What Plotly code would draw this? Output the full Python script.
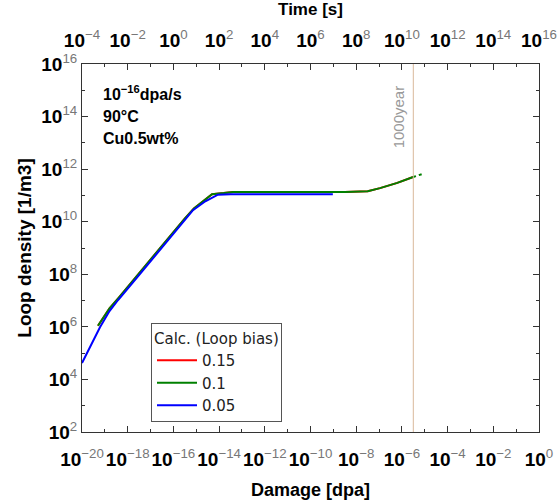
import plotly.graph_objects as go

# ---------------- data ----------------
blue_dpa = [1.0e-20, 2.5e-20, 6.2e-20, 1.6e-19, 3.8e-19, 3.2e-18, 3.2e-17, 3.2e-16,
            7.2e-16, 2.5e-15, 8.9e-15, 3.2e-14, 9.5e-10]
blue_den = [4.2e4, 2.0e5, 9.8e5, 4.0e6, 1.05e7, 9.5e7, 1.07e9, 1.17e10,
            2.75e10, 6.0e10, 1.07e11, 1.12e11, 1.12e11]

green_dpa = [5.0e-20, 1.6e-19, 4.0e-19, 3.2e-18, 3.2e-17, 3.2e-16, 7.9e-16, 2.5e-15,
             4.9e-15, 1.6e-14, 4.1e-14, 3.2e-9, 3.2e-8, 1.1e-7, 6.3e-7, 3.1e-6]
green_den = [1.1e6, 5.0e6, 1.26e7, 1.12e8, 1.26e9, 1.35e10, 3.2e10, 7.4e10,
             1.12e11, 1.23e11, 1.35e11, 1.35e11, 1.45e11, 1.9e11, 3.0e11, 5.0e11]
green_tail_dpa = [3.1e-6, 7.6e-6]
green_tail_den = [5.0e11, 6.5e11]

red_dpa = [5.0e-20, 1.6e-19, 4.0e-19, 3.2e-18, 3.2e-17, 3.2e-16, 7.9e-16, 2.5e-15,
           4.9e-15, 1.6e-14, 4.1e-14, 3.2e-9, 3.2e-8, 1.1e-7, 6.3e-7, 3.1e-6]
red_den = [1.1e6, 5.0e6, 1.26e7, 1.12e8, 1.26e9, 1.35e10, 3.2e10, 7.4e10,
           1.12e11, 1.23e11, 1.35e11, 1.35e11, 1.45e11, 1.9e11, 3.0e11, 5.0e11]

series_names = ["0.15", "0.1", "0.05"]

year1000_s = 3.156e10          # 1000 years in seconds
vline_den = [1e2, 1e16]

x_exps = [-20, -18, -16, -14, -12, -10, -8, -6, -4, -2, 0]
t_exps = [-4, -2, 0, 2, 4, 6, 8, 10, 12, 14, 16]
y_exps = [2, 4, 6, 8, 10, 12, 14, 16]

# ---------------- helpers ----------------
FONT = "Liberation Sans"
LFONT = "DejaVu Sans"


def pow_label(e):
    s = str(e).replace("-", "\u2212")
    return ("<b>10</b><sup><span style='color:#777'>%s</span></sup>" % s)


def minor_vals(lo, hi):
    return [10.0 ** k for k in range(lo, hi + 1) if k % 2 != 0]


fig = go.Figure()

fig.add_trace(go.Scatter(x=red_dpa, y=red_den, mode="lines", name=series_names[0],
                         line=dict(color="#ff0000", width=2)))
fig.add_trace(go.Scatter(x=green_dpa, y=green_den, mode="lines", name=series_names[1],
                         line=dict(color="#008000", width=2)))
fig.add_trace(go.Scatter(x=green_tail_dpa, y=green_tail_den, mode="lines", showlegend=False,
                         line=dict(color="#008000", width=2, dash="dot")))
fig.add_trace(go.Scatter(x=blue_dpa, y=blue_den, mode="lines", name=series_names[2],
                         line=dict(color="#0000ff", width=2)))
# 1000 year marker on the time axis
fig.add_trace(go.Scatter(x=[year1000_s, year1000_s], y=vline_den, mode="lines",
                         xaxis="x2", showlegend=False,
                         line=dict(color="#d9b89a", width=1)))

axis_common = dict(
    type="log", showgrid=False, zeroline=False, automargin=False,
    showline=True, linecolor="#333", linewidth=1,
    ticks="inside", ticklen=6, tickcolor="#333", tickangle=0,
    tickfont=dict(family=FONT, size=19, color="black"),
)

fig.update_layout(
    width=559, height=504,
    margin=dict(l=82, r=20, t=64, b=72),
    paper_bgcolor="white", plot_bgcolor="white",
    font=dict(family=FONT, color="black"),
    xaxis=dict(
        **axis_common,
        range=[-20, 0], mirror=True, ticklabelstandoff=10,
        tickvals=[10.0 ** e for e in x_exps],
        ticktext=[pow_label(e) for e in x_exps],
        minor=dict(tickvals=minor_vals(-20, 0), ticks="inside", ticklen=3, tickcolor="#333"),
        title=dict(text="<b>Damage [dpa]</b>", font=dict(family=FONT, size=18), standoff=14),
    ),
    xaxis2=dict(
        **axis_common,
        range=[-4, 16], overlaying="x", side="top", anchor="y", ticklabelstandoff=8,
        tickvals=[10.0 ** e for e in t_exps],
        ticktext=[pow_label(e) for e in t_exps],
        minor=dict(tickvals=minor_vals(-4, 16), ticks="inside", ticklen=3, tickcolor="#333"),
        title=dict(text="<b>Time [s]</b>", font=dict(family=FONT, size=17), standoff=10),
    ),
    yaxis=dict(
        **axis_common,
        range=[2, 16], mirror="ticks",
        tickvals=[10.0 ** e for e in y_exps],
        ticktext=[pow_label(e) for e in y_exps],
        minor=dict(tickvals=minor_vals(2, 16), ticks="inside", ticklen=3, tickcolor="#333"),
        title=dict(text="<b>Loop density [1/m3]</b>", font=dict(family=FONT, size=19), standoff=4),
    ),
    legend=dict(
        x=0.151, y=0.295, xanchor="left", yanchor="top",
        bgcolor="white", bordercolor="#555", borderwidth=1,
        font=dict(family=LFONT, size=15, color="#222"),
        title=dict(text="Calc. (Loop bias)", font=dict(family=LFONT, size=15, color="#222")),
        itemwidth=40, tracegroupgap=0,
    ),
    showlegend=True,
)

notes = [("<b>10<sup>\u221216</sup>dpa/s</b>", 0.921),
         ("<b>90\u00b0C</b>", 0.857),
         ("<b>Cu0.5wt%</b>", 0.797)]
for txt, yy in notes:
    fig.add_annotation(text=txt, xref="paper", yref="paper", x=0.042, y=yy,
                       xanchor="left", yanchor="middle", showarrow=False,
                       font=dict(family=FONT, size=16, color="black"))

fig.add_annotation(text="1000year", xref="x2", yref="y", x=10.499, y=14.0,
                   xanchor="right", yanchor="middle", xshift=-4, textangle=-90,
                   showarrow=False, font=dict(family=FONT, size=15, color="#999"))

fig.write_html("out.html")
